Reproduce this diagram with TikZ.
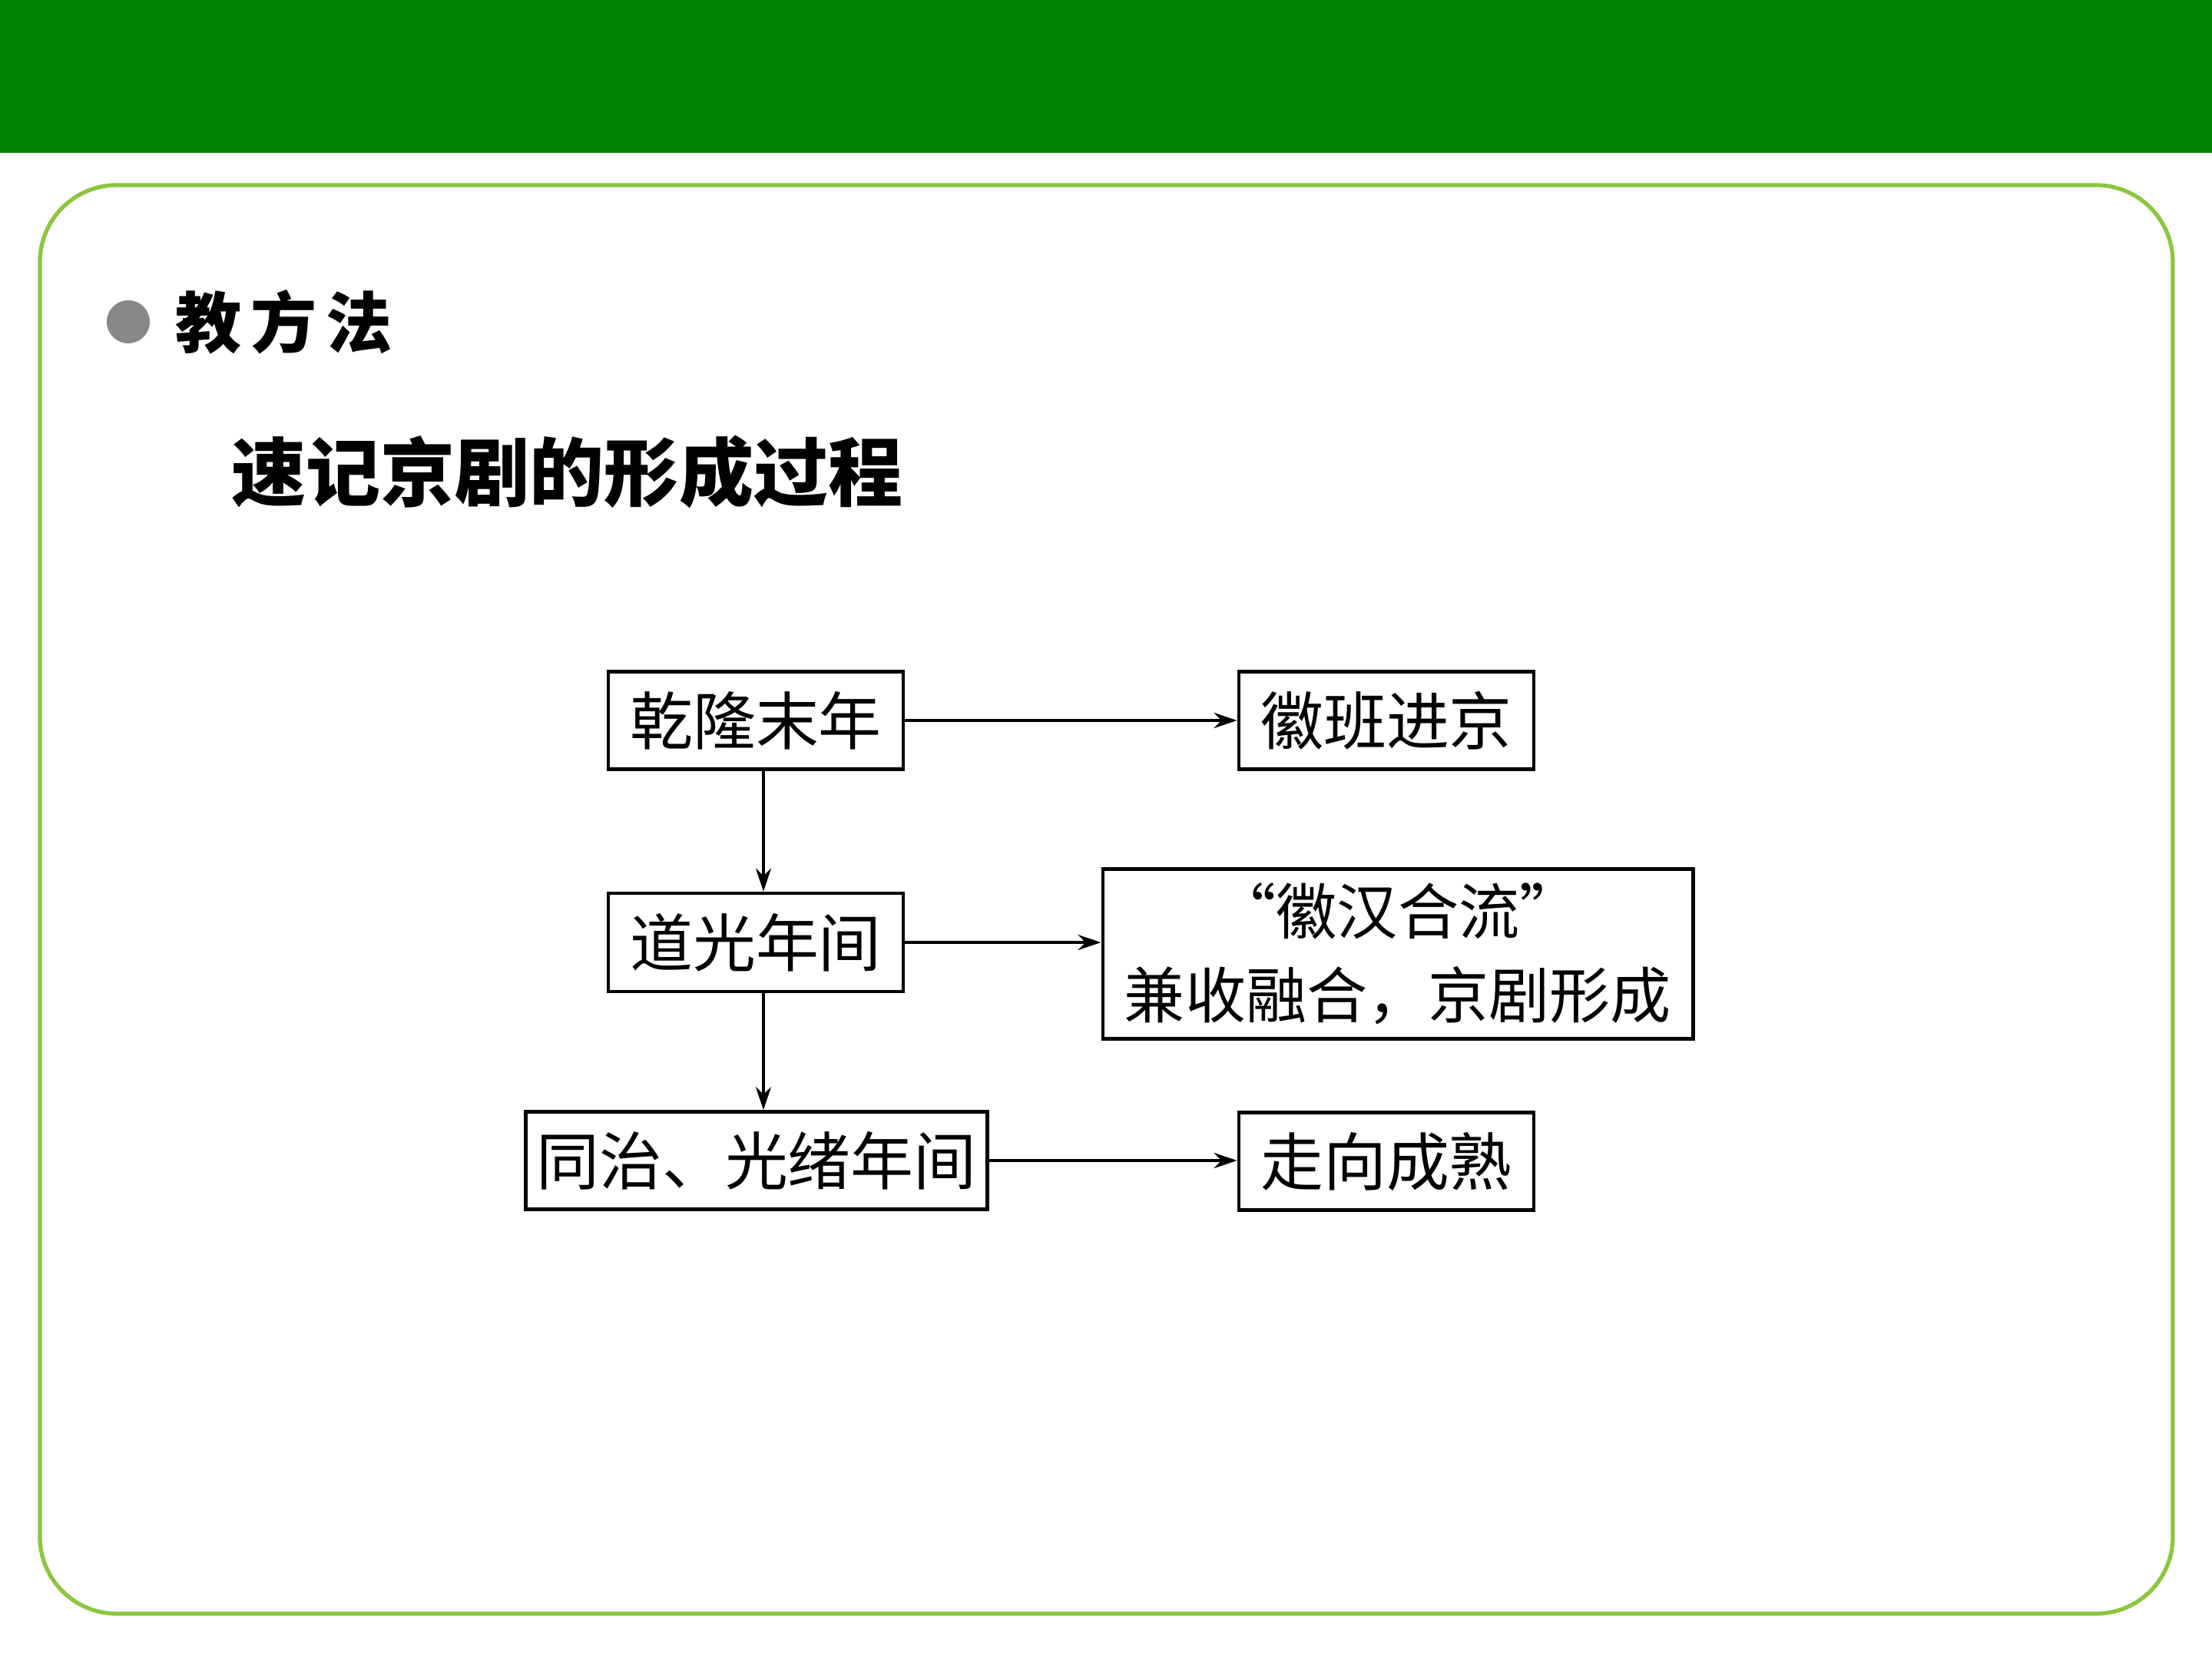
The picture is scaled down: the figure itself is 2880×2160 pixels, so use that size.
\documentclass[tikz,border=0pt]{standalone}
\usepackage{fontspec}
\newfontfamily\cjk{Noto Sans CJK SC}
\usetikzlibrary{arrows.meta}
\definecolor{topgreen}{RGB}{0,128,0}
\definecolor{framegreen}{RGB}{140,198,63}
\definecolor{bulletgrey}{RGB}{136,136,136}
\tikzset{
  box/.style={draw=black, line width=1.3pt, inner sep=0pt, minimum height=1.27cm,
    align=center, font=\cjk\fontsize{23.3}{30}\selectfont},
  conn/.style={line width=1.1pt, -{Stealth[length=0.3cm,width=0.2cm]}}
}
\begin{document}
\begin{tikzpicture}[x=0.01cm,y=-0.01cm]
\useasboundingbox (0,0) rectangle (2880,2160);
\fill[white] (0,0) rectangle (2880,2160);
\fill[topgreen] (0,0) rectangle (2880,199);
\draw[framegreen, line width=1.5pt, rounded corners=1.0cm] (52,241) rectangle (2829,2101);
\fill[bulletgrey] (167,419) circle[radius=0.28cm];
\node[anchor=west, inner sep=0pt, font=\cjk\bfseries\fontsize{24.5}{30}\selectfont] (sub) at (228,419) {教\hspace{0.12cm}方\hspace{0.12cm}法};
\node[anchor=west, inner sep=0pt, font=\cjk\bfseries\fontsize{27.6}{32}\selectfont] (title) at (301,615) {速记京剧的形成过程};

\node[box, minimum width=3.84cm] (qianlong) at (984,938) {乾隆末年};
\node[box, minimum width=3.84cm] (huiban) at (1805,938) {徽班进京};
\node[box, minimum width=3.84cm, minimum height=1.28cm] (daoguang) at (984,1227) {道光年间};
\node[box, minimum width=7.68cm, minimum height=2.21cm, font=\cjk\fontsize{22.5}{31}\selectfont] (huihan) at (1820,1242) {“徽汉合流”\\兼收融合，京剧形成};
\node[box, minimum width=6.01cm] (tongzhi) at (985,1511) {同治、光绪年间};
\node[box, minimum width=3.84cm] (zouxiang) at (1805,1512) {走向成熟};

\draw[conn] (qianlong.east) -- (huiban.west);
\draw[conn] ([xshift=0.1cm]qianlong.south) -- ([xshift=0.1cm]daoguang.north);
\draw[conn] (daoguang.east) -- (huihan.west |- daoguang.east);
\draw[conn] ([xshift=0.1cm]daoguang.south) -- ([xshift=0.1cm]daoguang.south |- tongzhi.north);
\draw[conn] (tongzhi.east) -- (zouxiang.west |- tongzhi.east);
\end{tikzpicture}
\end{document}
